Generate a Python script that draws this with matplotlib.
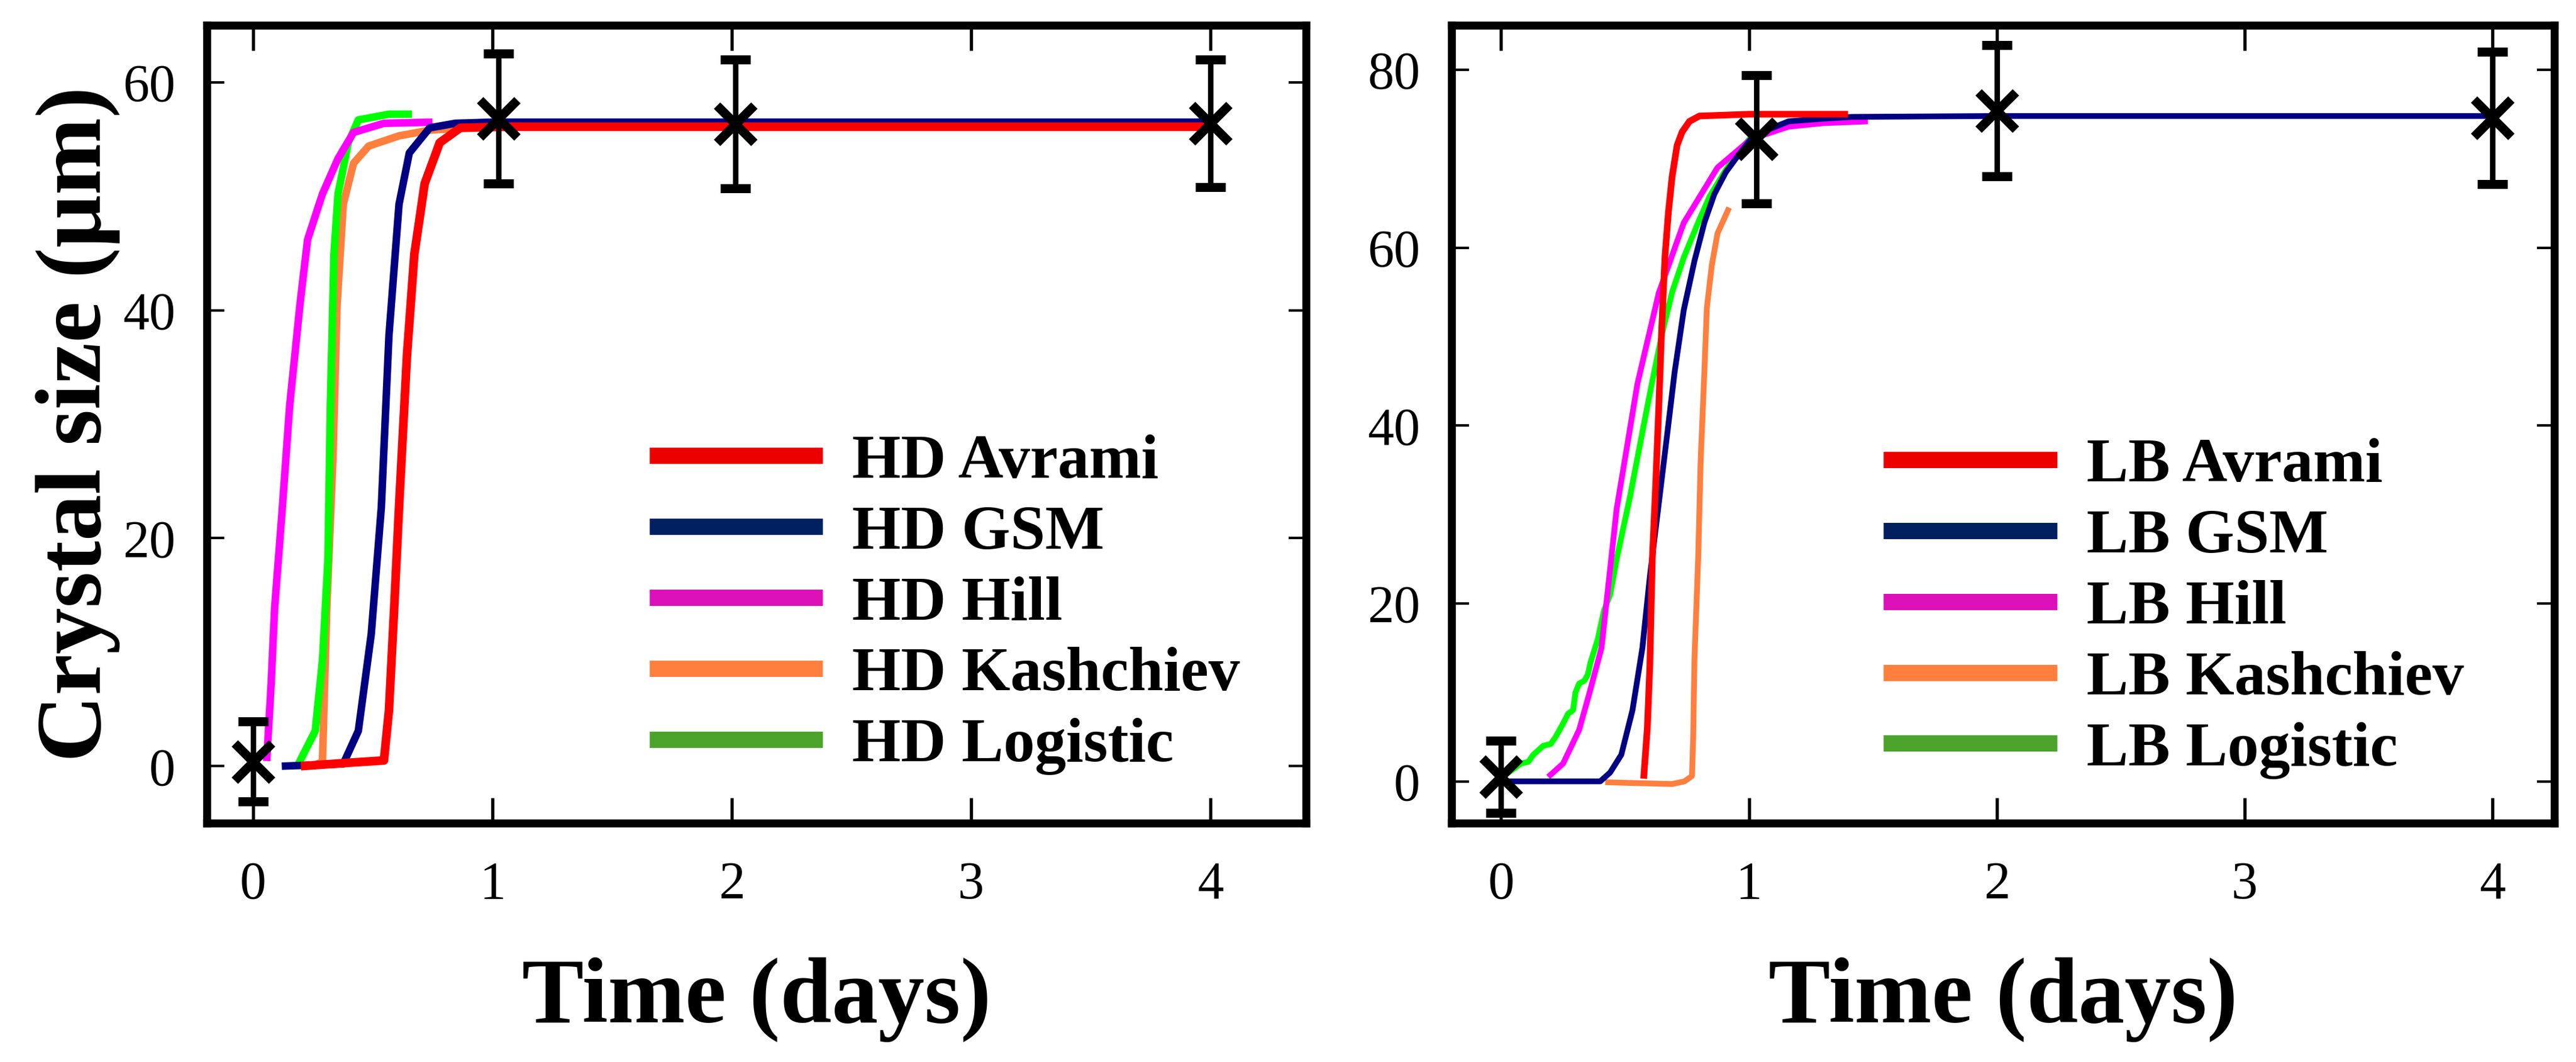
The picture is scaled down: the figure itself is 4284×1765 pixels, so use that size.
import matplotlib
matplotlib.use("Agg")
import matplotlib.pyplot as plt
from matplotlib.lines import Line2D

plt.rcParams['font.family'] = ['Liberation Serif', 'DejaVu Serif']

# ---------------- data ----------------
models = ["Avrami", "GSM", "Hill", "Kashchiev", "Logistic"]
curve_colors = ["#FF0000", "#000080", "#FF00FF", "#FF7F3F", "#00FF00"]
legend_colors = ["#EC0000", "#00205F", "#DC10B8", "#FF7F3F", "#4CA32C"]

# experimental points (days, µm, error)
hd_exp_t = [0, 1.025, 2.015, 4]
hd_exp_y = [0.4, 56.8, 56.35, 56.4]
hd_exp_e = [3.5, 5.7, 5.65, 5.6]

lb_exp_t = [0, 1.03, 2, 4]
lb_exp_y = [0.5, 72.2, 75.4, 74.6]
lb_exp_e = [4.05, 7.2, 7.4, 7.45]

# HD model curves
hd_avrami_t = [0.20, 0.40, 0.547, 0.568, 0.59, 0.61, 0.643, 0.674, 0.717, 0.78, 0.866, 1.06, 4.0]
hd_avrami_y = [0.0, 0.3, 0.5, 4.9, 14, 22.7, 36, 44.9, 51.1, 54.7, 56.0, 56.1, 56.1]
hd_gsm_t = [0.12, 0.377, 0.44, 0.494, 0.536, 0.568, 0.61, 0.653, 0.738, 0.845, 1.0, 4.0]
hd_gsm_y = [0.0, 0.2, 3.1, 11.6, 22.7, 37.8, 49.3, 53.8, 56.0, 56.4, 56.5, 56.5]
hd_hill_t = [0.057, 0.075, 0.09, 0.12, 0.153, 0.196, 0.228, 0.29, 0.355, 0.42, 0.547, 0.75]
hd_hill_y = [0.45, 7, 13.8, 22, 31.6, 40.5, 46.2, 50.2, 53.3, 55.6, 56.4, 56.5]
hd_kash_t = [0.25, 0.29, 0.308, 0.334, 0.351, 0.377, 0.42, 0.483, 0.61, 0.74, 0.88]
hd_kash_y = [0.0, 0.4, 13.8, 27, 40.4, 49.3, 52.9, 54.4, 55.3, 55.8, 56.0]
hd_logi_t = [0.185, 0.26, 0.29, 0.313, 0.323, 0.338, 0.355, 0.398, 0.44, 0.568, 0.664]
hd_logi_y = [0.0, 3.1, 9.3, 18.2, 31.6, 44.9, 50.2, 54.7, 56.7, 57.2, 57.2]

# LB model curves
lb_avrami_t = [0.575, 0.59, 0.60, 0.61, 0.623, 0.636, 0.648, 0.661, 0.675, 0.69, 0.71, 0.73, 0.76, 0.80, 1.0, 1.40]
lb_avrami_y = [0.3, 6, 13, 25, 33, 42, 51, 59, 64, 68, 71.5, 73, 74.2, 74.8, 75, 75]
lb_gsm_t = [0.0, 0.2, 0.4, 0.44, 0.485, 0.53, 0.57, 0.60, 0.635, 0.67, 0.70, 0.737, 0.78, 0.82, 0.86, 0.907, 0.96, 1.008, 1.08, 1.16, 1.3, 1.415, 2.0, 4.0]
lb_gsm_y = [0.0, 0.0, 0.0, 1, 3, 8, 15, 23, 31, 39, 46, 53, 58.5, 62.8, 66, 68.5, 70.5, 72.2, 73.3, 74.2, 74.5, 74.7, 74.8, 74.8]
lb_hill_t = [0.19, 0.25, 0.315, 0.36, 0.405, 0.466, 0.55, 0.636, 0.737, 0.873, 1.008, 1.16, 1.3, 1.48]
lb_hill_y = [0.5, 2, 5.8, 10.3, 15, 30.6, 44.7, 54.9, 62.8, 69, 72.2, 73.6, 74, 74.2]
lb_kash_t = [0.42, 0.55, 0.69, 0.74, 0.77, 0.775, 0.78, 0.795, 0.805, 0.82, 0.83, 0.85, 0.873, 0.92]
lb_kash_y = [-0.1, -0.2, -0.3, 0.0, 0.6, 5, 13.7, 25, 36, 46, 53.2, 58, 61.6, 64.5]
lb_logi_t = [0.02, 0.08, 0.11, 0.13, 0.17, 0.20, 0.22, 0.25, 0.27, 0.29, 0.30, 0.315, 0.335, 0.35, 0.36, 0.39, 0.415,
             0.44, 0.466, 0.52, 0.568, 0.61, 0.65, 0.69, 0.737, 0.79, 0.84, 0.89, 0.94, 1.008, 1.05]
lb_logi_y = [0.8, 2, 2.2, 3, 4, 4.2, 5, 6.5, 7.6, 8, 10, 11, 11.3, 12, 13.3, 16, 19.2,
             21, 25, 32, 39, 45, 50.4, 55, 58.9, 62.5, 65.7, 68, 70.2, 72.4, 73]

hd_curves = [(hd_avrami_t, hd_avrami_y), (hd_gsm_t, hd_gsm_y), (hd_hill_t, hd_hill_y),
             (hd_kash_t, hd_kash_y), (hd_logi_t, hd_logi_y)]
lb_curves = [(lb_avrami_t, lb_avrami_y), (lb_gsm_t, lb_gsm_y), (lb_hill_t, lb_hill_y),
             (lb_kash_t, lb_kash_y), (lb_logi_t, lb_logi_y)]

x_ticks = [0, 1, 2, 3, 4]
hd_y_ticks = [0, 20, 40, 60]
lb_y_ticks = [0, 20, 40, 60, 80]

# ---------------- figure ----------------
fig = plt.figure(figsize=(4284 / 300, 1765 / 300), dpi=300)
ax1 = fig.add_axes([0.0803, 0.2249, 0.4267, 0.7513])
ax2 = fig.add_axes([0.5635, 0.2249, 0.4281, 0.7513])

draw_order = [3, 4, 2, 1, 0]


def style(ax, prefix, curves, et, ey, ee, yticks, xlim, ylim, lw, leg_anchor):
    for k, i in enumerate(draw_order):
        t, y = curves[i]
        ax.plot(t, y, color=curve_colors[i], lw=lw * (1.15 if i == 0 else 1.0),
                solid_capstyle='butt', zorder=2 + k * 0.1)
    ax.errorbar(et, ey, yerr=ee, fmt='x', color='black', ms=15, mew=3.6,
                elinewidth=2.2, capsize=6, capthick=2.2, zorder=5)
    ax.set_xlim(*xlim)
    ax.set_ylim(*ylim)
    ax.set_xticks(x_ticks)
    ax.set_yticks(yticks)
    for s in ax.spines.values():
        s.set_linewidth(3.2)
    ax.tick_params(axis='x', direction='in', top=True, bottom=True, length=10,
                   width=1.3, labelsize=21, pad=15)
    ax.tick_params(axis='y', direction='in', left=True, right=True, length=7,
                   width=1.0, labelsize=21, pad=12.5)
    ax.set_xlabel("Time (days)", fontsize=37, fontweight='bold')
    ax.xaxis.set_label_coords(0.5, -0.168)
    handles = [Line2D([0], [0], color=c, lw=6.5, solid_capstyle='butt') for c in legend_colors]
    labels = [f"{prefix} {m}" for m in models]
    ax.legend(handles, labels, loc='upper left', bbox_to_anchor=leg_anchor, frameon=False,
              borderpad=0, borderaxespad=0, handlelength=2.77, handletextpad=0.47,
              labelspacing=0.22, prop={'family': 'Liberation Serif', 'weight': 'bold', 'size': 25})


style(ax1, "HD", hd_curves, hd_exp_t, hd_exp_y, hd_exp_e, hd_y_ticks,
      (-0.193, 4.40), (-5, 65), 3.0, (0.4026, 0.488))
style(ax2, "LB", lb_curves, lb_exp_t, lb_exp_y, lb_exp_e, lb_y_ticks,
      (-0.2, 4.25), (-4.7, 85), 2.3, (0.3915, 0.483))

ax1.set_ylabel("Crystal size (\u03bcm)", fontsize=37, fontweight='bold')
ax1.yaxis.set_label_coords(-0.079, 0.5)

fig.savefig("out.png", dpi=300, facecolor='white')
